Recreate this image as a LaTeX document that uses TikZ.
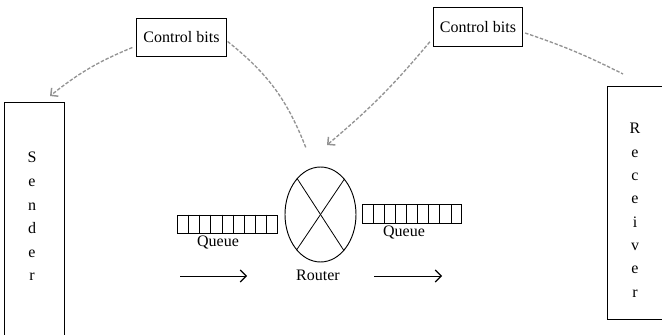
\documentclass[tikz,border=0pt]{standalone}
\usepackage{fontspec}
\setmainfont{Liberation Serif}
\usetikzlibrary{shapes.geometric,calc,arrows.meta}

\tikzset{
  box/.style={draw, line width=0.8pt, inner sep=0pt},
  lbl/.style={inner sep=0pt, font=\fontsize{12}{14}\selectfont},
  letter/.style={inner sep=0pt, anchor=base, font=\fontsize{12}{14}\selectfont},
  ctrl/.style={draw, line width=0.7pt, inner sep=0pt, minimum width=67pt, minimum height=29pt,
               font=\fontsize{12}{14}\selectfont},
  feedback/.style={draw=gray!85, line width=1pt, dash pattern=on 2.6pt off 1.3pt},
  fbtip/.style={-{Straight Barb[length=4pt, width=8pt, line width=1.1pt]}},
  flow/.style={line width=0.7pt, -{Straight Barb[length=4.5pt, width=9pt, line width=0.8pt]}},
  queuebox/.style={draw, line width=0.7pt, inner sep=0pt, minimum width=74.5pt, minimum height=14pt}
}

\begin{document}
\begin{tikzpicture}[x=0.75pt, y=-0.75pt]
  \useasboundingbox (0,0) rectangle (662,335);
  \clip (0,0) rectangle (662,335);

  % end hosts
  \node[box, anchor=north west, minimum width=45pt, minimum height=190pt] (sender) at (4,102) {};
  \node[box, anchor=north west, minimum width=55pt, minimum height=174.75pt] (receiver) at (607,86) {};
  \foreach \ch [count=\i from 0] in {S,e,n,d,e,r}
    \node[letter] (s\i) at (32,163+23.6*\i) {\ch};
  \foreach \ch [count=\i from 0] in {R,e,c,e,i,v,e,r}
    \node[letter] (r\i) at (635,134+23.3*\i) {\ch};

  % router
  \node[draw, ellipse, line width=0.7pt, inner sep=0pt, minimum width=53.25pt, minimum height=71.25pt] (router) at (320.5,214.5) {};
  \draw[line width=0.6pt] (router.123.5) -- (router.303.5);
  \draw[line width=0.6pt] (router.56.5) -- (router.236.5);
  \node[lbl] (routerlbl) at (318,275) {Router};

  % queues
  \node[queuebox] (q1) at (227.5,224.5) {};
  \node[queuebox] (q2) at (412,214) {};
  \foreach \q in {q1,q2}
    \foreach \i in {1,...,8}
      \draw[line width=0.6pt] ($(\q.north west)!\i/9!(\q.north east)$) -- ($(\q.south west)!\i/9!(\q.south east)$);
  \node[lbl] (q1lbl) at (218,243) {Queue};
  \node[lbl] (q2lbl) at (404,233) {Queue};

  % data flow arrows
  \coordinate (f1a) at (180,276);
  \coordinate (f1b) at (247,276);
  \coordinate (f2a) at (374,276);
  \coordinate (f2b) at (442,276);
  \draw[flow] (f1a) -- (f1b);
  \draw[flow] (f2a) -- (f2b);

  % control bits
  \node[ctrl] (cb1) at (181.5,37.5) {Control bits};
  \node[ctrl] (cb2) at (478,27) {Control bits};

  % feedback paths
  \coordinate (e1) at (50,96);
  \coordinate (e2) at (306,148);
  \coordinate (e3) at (327,145);
  \coordinate (e4) at (623,74);
  \draw[feedback, fbtip] ($(cb1.west)+(-4,10)$) to[bend right=8] (e1);
  \draw[feedback] ($(cb1.east)+(1,4)$) to[bend left=15] (e2);
  \draw[feedback, fbtip] ($(cb2.south west)+(-3,-5)$) to[bend left=5] (e3);
  \draw[feedback] ($(cb2.east)+(2,6)$) to[bend left=4] (e4);
\end{tikzpicture}
\end{document}
